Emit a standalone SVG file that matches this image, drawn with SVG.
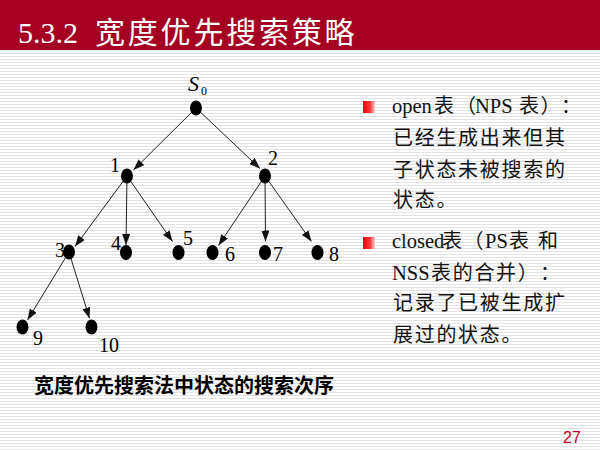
<svg xmlns="http://www.w3.org/2000/svg" width="600" height="450" viewBox="0 0 600 450">
  <defs>
    <pattern id="stripes" width="6" height="3" patternUnits="userSpaceOnUse">
      <rect width="6" height="3" fill="#ffffff"/>
      <rect y="2" width="6" height="1" fill="#e3e3e3"/>
    </pattern>
    <linearGradient id="bulletGrad" x1="0" y1="0" x2="1" y2="0">
      <stop offset="0" stop-color="#e8000b"/>
      <stop offset="0.6" stop-color="#f23a3a"/>
      <stop offset="1" stop-color="#fbd0d0"/>
    </linearGradient>
    <marker id="arrow" markerUnits="userSpaceOnUse" markerWidth="11" markerHeight="8" refX="11" refY="4" orient="auto">
      <path d="M0,0 L11,4 L0,8 z" fill="#111"/>
    </marker>
    <style>
      .edge { stroke: #222; stroke-width: 1; fill: none; marker-end: url(#arrow); }
      .dot { fill: #000; }
      .lbl { font-family: "Liberation Serif", serif; font-size: 20px; fill: #000; }
      .sym { font-family: "Liberation Serif", serif; font-size: 22px; font-style: italic; fill: #000; }
      .sub { font-family: "Liberation Serif", serif; font-size: 12px; fill: #000; }
      .body { font-family: "Liberation Serif", "Noto Sans CJK SC", serif; font-size: 20.5px; fill: #111; }
      .cjk { font-family: "Noto Sans CJK SC", sans-serif; font-size: 20px; letter-spacing: 1.7px; }
      .bullet { fill: url(#bulletGrad); }
    </style>
  </defs>

  <!-- slide background and header band -->
  <rect width="600" height="450" fill="url(#stripes)"/>
  <rect width="600" height="50" fill="#a50021"/>
  <text x="18" y="43" font-family="Liberation Serif, Noto Sans CJK SC, serif" font-size="30" fill="#ffffff">5.3.2 <tspan x="95" letter-spacing="2.8">宽度优先搜索策略</tspan></text>

  <!-- tree connectors -->
  <g id="connectors">
    <line class="edge" x1="196" y1="108" x2="133.5" y2="170"/>
    <line class="edge" x1="196" y1="108" x2="260" y2="168.5"/>
    <line class="edge" x1="127" y1="176" x2="75" y2="246.5"/>
    <line class="edge" x1="127" y1="176" x2="126" y2="245"/>
    <line class="edge" x1="127" y1="176" x2="172.5" y2="241.5"/>
    <line class="edge" x1="265" y1="176" x2="218.5" y2="245.5"/>
    <line class="edge" x1="265" y1="176" x2="265.5" y2="241.5"/>
    <line class="edge" x1="265" y1="176" x2="311.5" y2="241.5"/>
    <line class="edge" x1="69" y1="252" x2="27.5" y2="320"/>
    <line class="edge" x1="69" y1="252" x2="89.5" y2="318.5"/>
  </g>

  <!-- tree nodes -->
  <g id="node-s0">
    <ellipse class="dot" cx="196" cy="108" rx="6" ry="7.5"/>
    <text class="sym" x="188" y="91">S</text>
    <text class="sub" x="201" y="95">0</text>
  </g>
  <g id="node-1">
    <ellipse class="dot" cx="127" cy="176" rx="6" ry="7.5"/>
    <text class="lbl" x="110" y="172">1</text>
  </g>
  <g id="node-2">
    <ellipse class="dot" cx="265" cy="176" rx="6" ry="7.5"/>
    <text class="lbl" x="268" y="165">2</text>
  </g>
  <g id="node-3">
    <ellipse class="dot" cx="69" cy="252" rx="6" ry="7.5"/>
    <text class="lbl" x="55" y="257">3</text>
  </g>
  <g id="node-4">
    <ellipse class="dot" cx="126" cy="252.5" rx="6" ry="7.5"/>
    <text class="lbl" x="111" y="250">4</text>
  </g>
  <g id="node-5">
    <ellipse class="dot" cx="178.5" cy="252.5" rx="6" ry="7.5"/>
    <text class="lbl" x="183" y="245">5</text>
  </g>
  <g id="node-6">
    <ellipse class="dot" cx="212.5" cy="252.5" rx="6" ry="7.5"/>
    <text class="lbl" x="225" y="261">6</text>
  </g>
  <g id="node-7">
    <ellipse class="dot" cx="265" cy="252.5" rx="6" ry="7.5"/>
    <text class="lbl" x="273" y="261">7</text>
  </g>
  <g id="node-8">
    <ellipse class="dot" cx="317.5" cy="252.5" rx="6" ry="7.5"/>
    <text class="lbl" x="329" y="261">8</text>
  </g>
  <g id="node-9">
    <ellipse class="dot" cx="22.5" cy="327" rx="6" ry="7.5"/>
    <text class="lbl" x="33" y="345">9</text>
  </g>
  <g id="node-10">
    <ellipse class="dot" cx="91.5" cy="327" rx="6" ry="7.5"/>
    <text class="lbl" x="99" y="352">10</text>
  </g>

  <!-- caption under the tree -->
  <text x="34" y="393" font-family="Liberation Serif, Noto Sans CJK SC, serif" font-size="20" font-weight="bold" fill="#000">宽度优先搜索法中状态的搜索次序</text>

  <!-- bullet list -->
  <g id="bullet-open">
    <rect class="bullet" x="363" y="101" width="12" height="12"/>
    <text class="body" y="113"><tspan x="392">open</tspan><tspan class="cjk" x="434">表</tspan><tspan class="cjk" x="456">（</tspan><tspan x="475">NPS</tspan><tspan class="cjk" x="519">表</tspan><tspan class="cjk" x="540.5">）</tspan><tspan class="cjk" x="561">：</tspan></text>
    <text class="body cjk" x="393" y="145">已经生成出来但其</text>
    <text class="body cjk" x="393" y="177">子状态未被搜索的</text>
    <text class="body cjk" x="393" y="207">状态。</text>
  </g>
  <g id="bullet-closed">
    <rect class="bullet" x="363" y="237" width="12" height="12"/>
    <text class="body" y="248"><tspan x="392">closed</tspan><tspan class="cjk" x="442">表</tspan><tspan class="cjk" x="463.5">（</tspan><tspan x="485">PS</tspan><tspan class="cjk" x="509">表</tspan><tspan class="cjk" x="538">和</tspan></text>
    <text class="body" y="280"><tspan x="392">NSS</tspan><tspan class="cjk" x="431">表的合并）</tspan><tspan class="cjk" x="540">：</tspan></text>
    <text class="body cjk" x="393" y="310">记录了已被生成扩</text>
    <text class="body cjk" x="393" y="342">展过的状态。</text>
  </g>

  <!-- page number -->
  <text x="563" y="443" font-family="Liberation Sans, Arial, sans-serif" font-size="16" fill="#c0002a">27</text>
</svg>
